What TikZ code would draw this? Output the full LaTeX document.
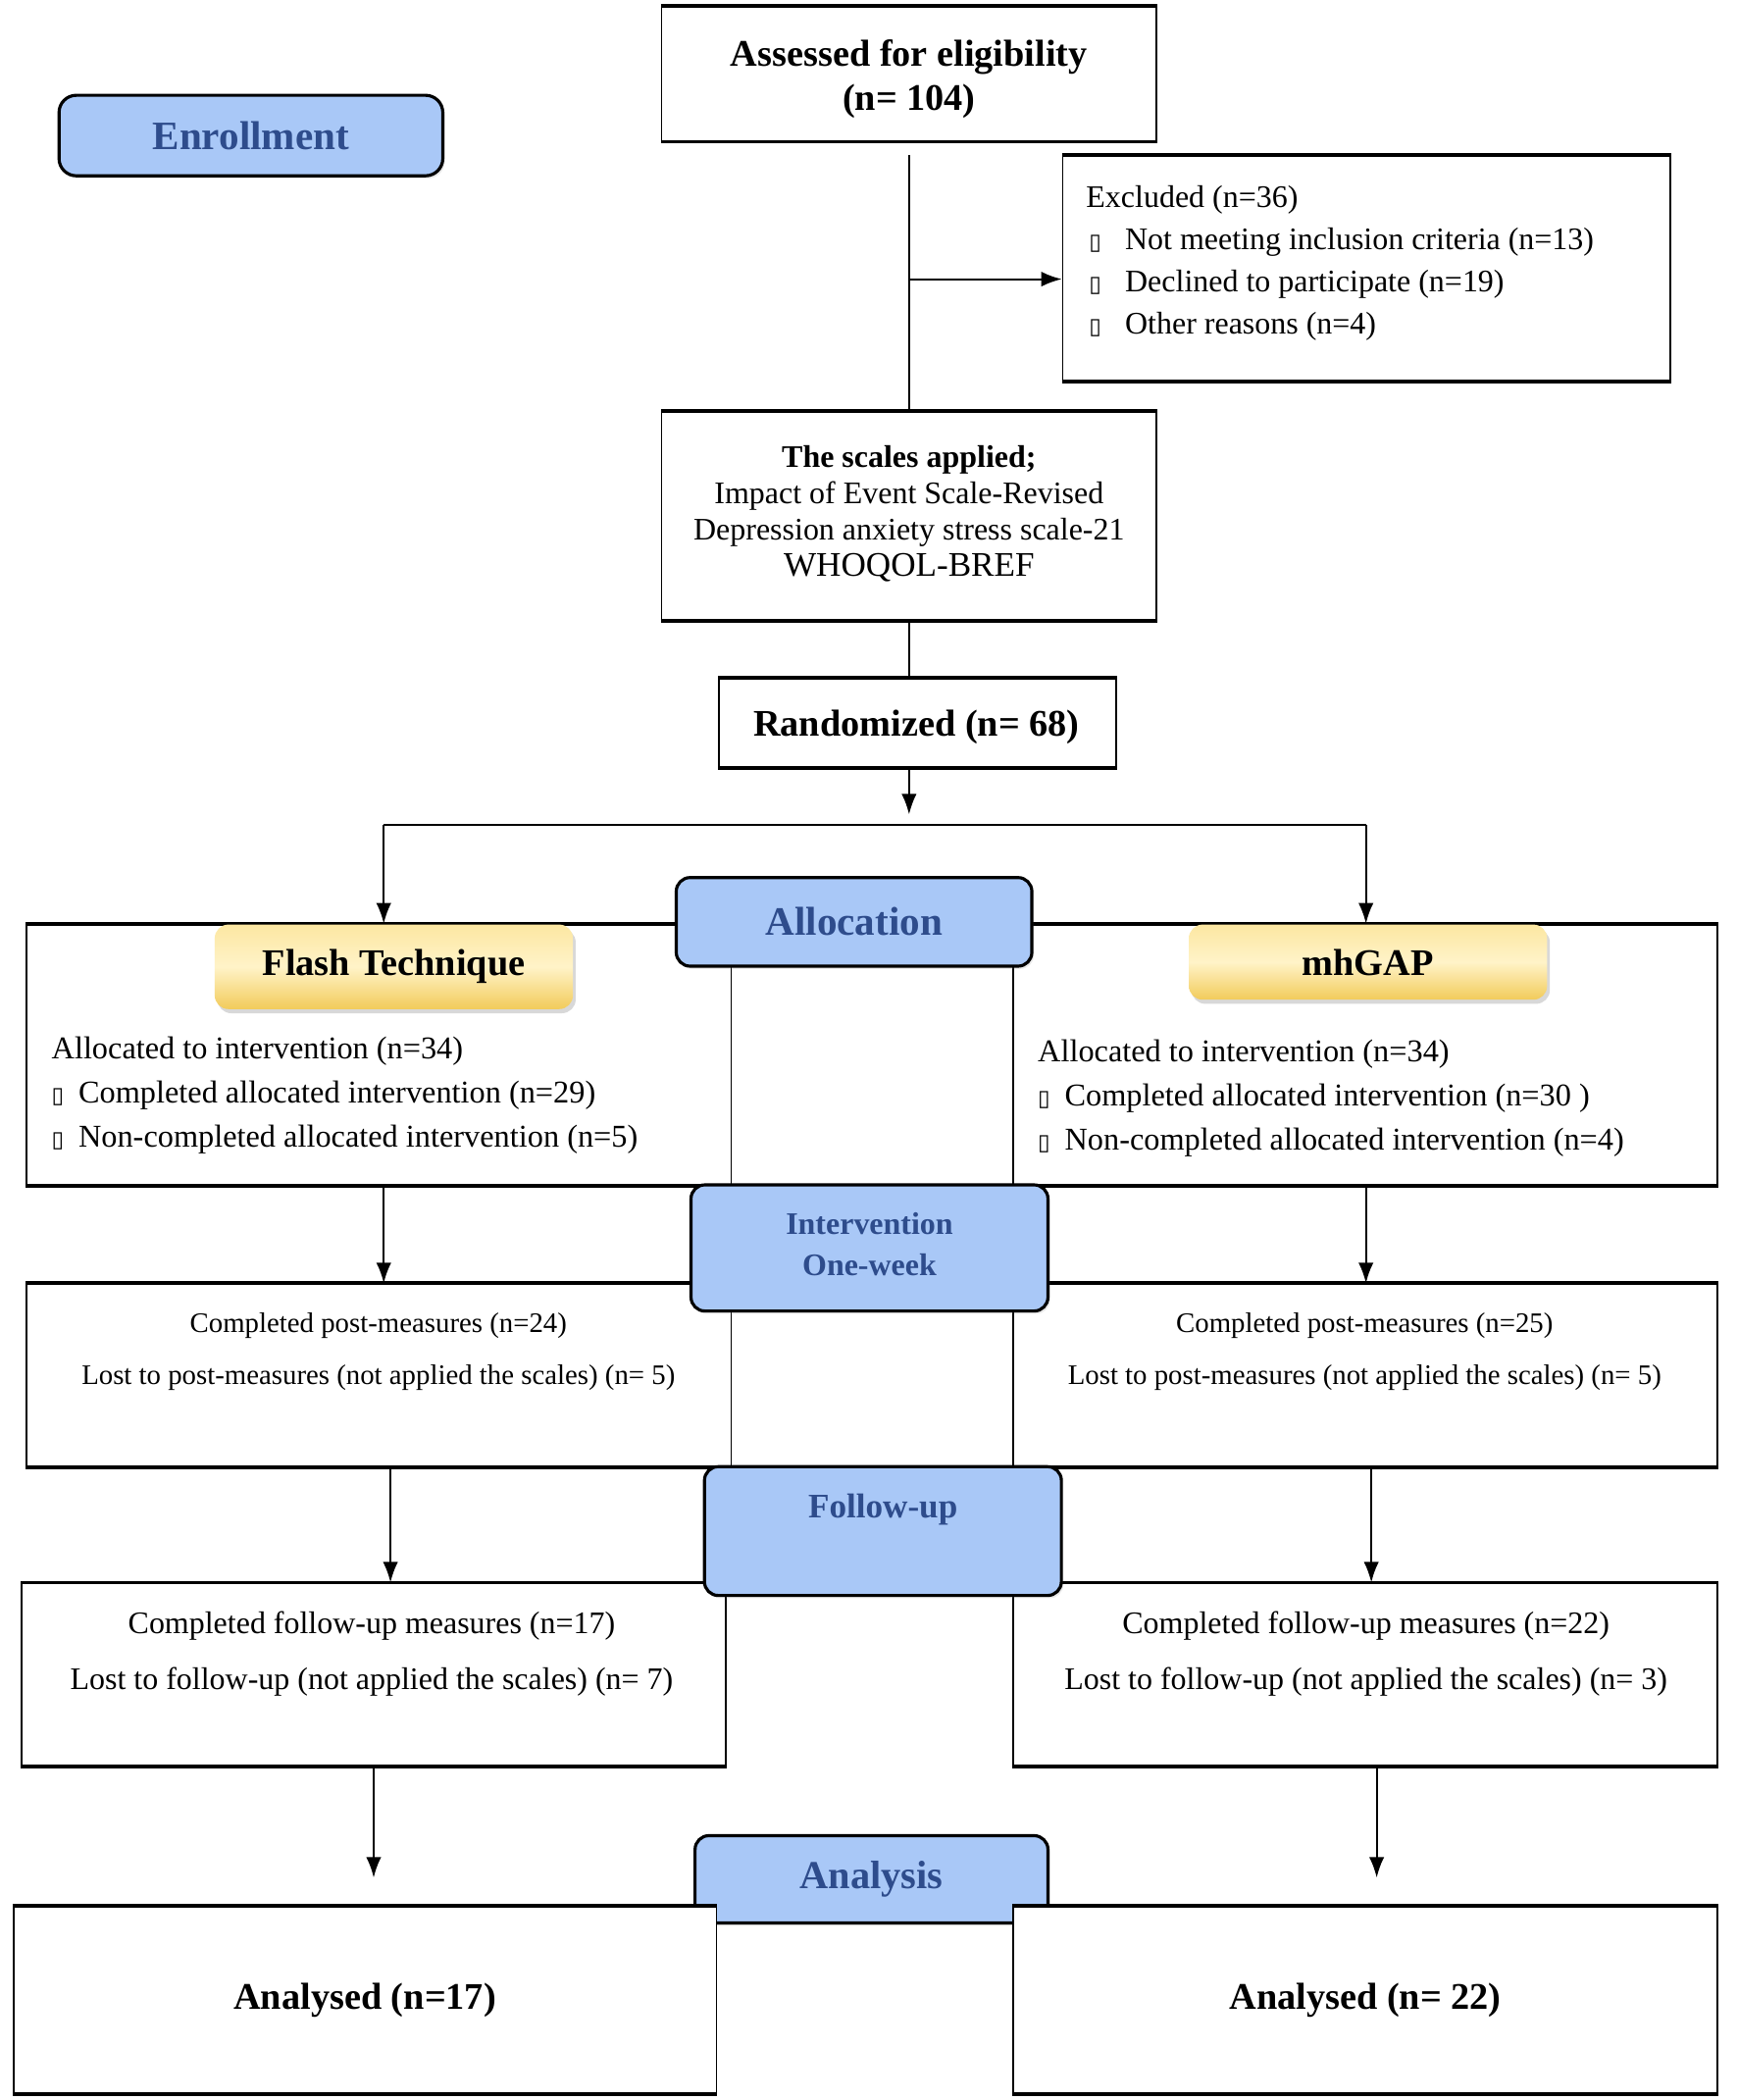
\documentclass[tikz,border=0pt]{standalone}
\usepackage{fontspec}
\setmainfont{Liberation Serif}
\newfontfamily\dejavu{DejaVu Sans}
\usetikzlibrary{arrows.meta,shadows,calc}
\definecolor{bluefill}{HTML}{A9C8F7}
\definecolor{bluetext}{HTML}{2E4C8C}
\definecolor{yelT}{HTML}{FCE7A2}
\definecolor{yelM}{HTML}{FFF3C8}
\definecolor{yelB}{HTML}{F2CB5A}
\newdimen\U \U=0.01368cm
\newcommand\fsz[2]{\fontsize{#1}{#2}\selectfont}
\newcommand\bulE{\makebox[11.3pt][l]{\hspace{0.8pt}{\dejavu\fontsize{6.5}{6.5}\selectfont ▯}}}
\newcommand\bulA{\makebox[7.8pt][l]{{\dejavu\fontsize{6.5}{6.5}\selectfont ▯}}}
\tikzset{
  wbox/.style={draw, line width=0.5pt, fill=white, inner sep=0pt},
  hedge/.style={line width=1.1pt},
  bbox/.style={draw, line width=0.9pt, fill=bluefill, rounded corners=4pt, text=bluetext, font=\bfseries, inner sep=0pt,
    drop shadow={opacity=0.18, shadow xshift=0.6pt, shadow yshift=-0.8pt}},
  ybox/.style={rounded corners=4pt, top color=yelT, bottom color=yelB, middle color=yelM,
    drop shadow={opacity=0.3, shadow xshift=0.8pt, shadow yshift=-1.2pt}, font=\bfseries\fsz{10.9}{13}, inner sep=0pt},
  conn/.style={line width=0.6pt},
  arr/.style={conn, -{Latex[length=6pt,width=4.4pt]}},
  txt/.style={inner sep=0pt, align=center},
}
\begin{document}
\begin{tikzpicture}[x=0.01368cm, y=-0.01368cm]
\useasboundingbox (0,0) rectangle (1295,1565);

% Enrollment stage
\node[bbox, minimum width=286*\U, minimum height=60*\U, font=\bfseries\fsz{11.7}{14}, rounded corners=5pt] (enroll) at (187,101) {Enrollment};
\node[wbox, minimum width=369*\U, minimum height=100*\U] (assess) at (677.5,55) {};
\node[txt, font=\bfseries\fsz{10.9}{12.6}] (assesstxt) at (677.5,59) {Assessed for eligibility\\(n= 104)};
\node[wbox, minimum width=453*\U, minimum height=168*\U] (excl) at (1018.5,200) {};
\node[txt, anchor=west, align=left, font=\fsz{9.1}{12.2}] (excltxt) at (809,196) {Excluded (n=36)\\\bulE Not meeting inclusion criteria (n=13)\\\bulE Declined to participate (n=19)\\\bulE Other reasons (n=4)};
\node[wbox, minimum width=369*\U, minimum height=155*\U] (scales) at (677.5,384.5) {};
\node[txt, font=\fsz{9.1}{10.5}] (scalestxt) at (677.5,383) {\textbf{The scales applied;}\\Impact of Event Scale-Revised\\Depression anxiety stress scale-21\\{\fsz{10}{11.3}WHOQOL-BREF}};
\node[wbox, minimum width=296*\U, minimum height=66*\U] (rand) at (684,539) {};
\node[txt, font=\bfseries\fsz{10.9}{13}] (randtxt) at (683,542) {Randomized (n= 68)};
\foreach \n in {assess,excl,scales,rand}
  \draw[hedge] (\n.north west) -- (\n.north east) (\n.south west) -- (\n.south east);

% white group boxes
\node[wbox, minimum width=525*\U, minimum height=194*\U] (flashbox) at (282.5,786) {};
\node[wbox, minimum width=525*\U, minimum height=194*\U] (mhbox) at (1017.5,786) {};
\node[wbox, minimum width=525*\U, minimum height=136*\U] (postL) at (282.5,1025) {};
\node[wbox, minimum width=525*\U, minimum height=136*\U] (postR) at (1017.5,1025) {};
\node[wbox, minimum width=525*\U, minimum height=136*\U] (fuL) at (278.5,1248) {};
\node[wbox, minimum width=525*\U, minimum height=136*\U] (fuR) at (1017.5,1248) {};
\foreach \n in {flashbox,mhbox,postL,postR,fuL,fuR}
  \draw[hedge] (\n.north west) -- (\n.north east) (\n.south west) -- (\n.south east);

% stage labels
\node[bbox, minimum width=265*\U, minimum height=66*\U, font=\bfseries\fsz{11.7}{14}] (alloc) at (636.5,687) {Allocation};
\node[bbox, minimum width=266*\U, minimum height=94*\U] (interv) at (648,930) {};
\node[txt, text=bluetext, font=\bfseries\fsz{9.1}{12}] (intervtxt) at (648,927) {Intervention\\One-week};
\node[bbox, minimum width=266*\U, minimum height=96*\U] (follow) at (658,1141) {};
\node[txt, text=bluetext, font=\bfseries\fsz{10}{12}] (followtxt) at (658,1125) {Follow-up};

% arms
\node[ybox, minimum width=267*\U, minimum height=63*\U] (flash) at (293.5,720.5) {Flash Technique};
\node[ybox, minimum width=267*\U, minimum height=56*\U] (mhgap) at (1019.5,717) {mhGAP};

\node[txt, anchor=west, align=left, font=\fsz{9.2}{12.8}] (flashtxt) at (38,816) {Allocated to intervention (n=34)\\\bulA Completed allocated intervention (n=29)\\\bulA Non-completed allocated intervention (n=5)};
\node[txt, anchor=west, align=left, font=\fsz{9.2}{12.8}] (mhtxt) at (773,818.5) {Allocated to intervention (n=34)\\\bulA Completed allocated intervention (n=30 )\\\bulA Non-completed allocated intervention (n=4)};

\node[txt, font=\fsz{8.2}{15.2}] (postLtxt) at (282,1007.5) {Completed post-measures (n=24)\\Lost to post-measures (not applied the scales) (n= 5)};
\node[txt, font=\fsz{8.2}{15.2}] (postRtxt) at (1017,1007.5) {Completed post-measures (n=25)\\Lost to post-measures (not applied the scales) (n= 5)};

\node[txt, font=\fsz{9.1}{16}] (fuLtxt) at (277,1232.5) {Completed follow-up measures (n=17)\\Lost to follow-up (not applied the scales) (n= 7)};
\node[txt, font=\fsz{9.1}{16}] (fuRtxt) at (1018,1232.5) {Completed follow-up measures (n=22)\\Lost to follow-up (not applied the scales) (n= 3)};

% analysis
\node[bbox, minimum width=263*\U, minimum height=65*\U, font=\bfseries\fsz{11.5}{14}] (analysis) at (649.5,1400.5) {Analysis};
\node[wbox, minimum width=524*\U, minimum height=139*\U, font=\bfseries\fsz{10.9}{13}] (anL) at (272,1490.5) {Analysed (n=17)};
\node[wbox, minimum width=525*\U, minimum height=139*\U, font=\bfseries\fsz{10.9}{13}] (anR) at (1017.5,1490.5) {Analysed (n= 22)};
\foreach \n in {anL,anR}
  \draw[hedge] (\n.north west) -- (\n.north east) (\n.south west) -- (\n.south east);

% connectors
\coordinate (j1) at (677.5,208);
\draw[conn] ([yshift=-10*\U]assess.south) -- (scales.north);
\draw[arr] (j1) -- (j1 -| excl.west);
\draw[conn] (scales.south) -- (scales.south |- rand.north);
\coordinate (split) at (677.5,615);
\coordinate (splitTop) at ([yshift=8*\U]split);
\coordinate (sL) at (286,615);
\coordinate (sR) at (1018,615);
\draw[arr] (rand.south -| split) -- (splitTop);
\draw[conn] (sL) -- (sR);
\draw[arr] (sL) -- (sL |- flashbox.north);
\draw[arr] (sR) -- (sR |- mhbox.north);
\draw[arr] (flashbox.south -| sL) -- (sL |- postL.north);
\draw[arr] (mhbox.south -| sR) -- (sR |- postR.north);
\coordinate (pLs) at ([xshift=8.5*\U]postL.south);
\coordinate (pRs) at ([xshift=4.5*\U]postR.south);
\draw[arr] (pLs) -- (pLs |- fuL.north);
\draw[arr] (pRs) -- (pRs |- fuR.north);
\coordinate (aL) at ([yshift=21*\U]anL.north);
\coordinate (fRs) at ([xshift=8.5*\U]fuR.south);
\draw[arr] (fuL.south) -- (fuL.south |- aL);
\draw[arr] (fRs) -- (fRs |- aL);
\end{tikzpicture}
\end{document}
